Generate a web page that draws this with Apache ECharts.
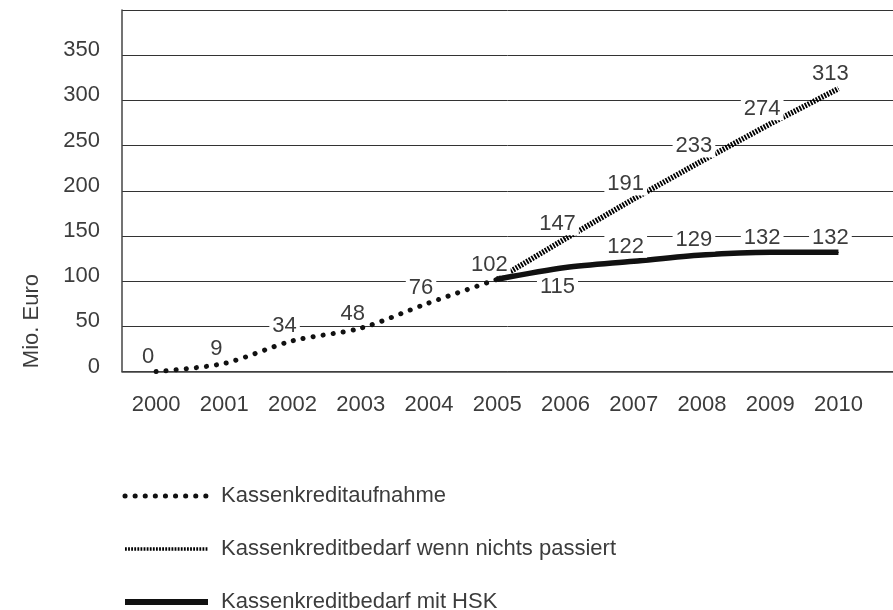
<!DOCTYPE html>
<html>
<head>
<meta charset="utf-8">
<script src="https://cdn.jsdelivr.net/npm/echarts@6/dist/echarts.min.js"></script>
<style>
  html, body { margin: 0; padding: 0; background: #fff; }
  #main { width: 893px; height: 610px; }
</style>
</head>
<body>
<div id="main"></div>
<script>
// Jahre und Werte (Mio. Euro)
var years = [2000, 2001, 2002, 2003, 2004, 2005, 2006, 2007, 2008, 2009, 2010]
var aufnahme = [0, 9, 34, 48, 76, 102, null, null, null, null, null]
var ohneHsk = [null, null, null, null, null, 102, 147, 191, 233, 274, 313]
var mitHsk = [null, null, null, null, null, 102, 115, 122, 129, 132, 132]
var yTicks = [0, 50, 100, 150, 200, 250, 300, 350]
var seriesNames = ['Kassenkreditaufnahme', 'Kassenkreditbedarf wenn nichts passiert', 'Kassenkreditbedarf mit HSK']

var font = 'Liberation Sans, Arial, sans-serif'
var textColor = '#3c3c3c'
var fs = 22

// baut die Datenpunkte; der erste Punkt 2005 der Prognosen bekommt kein Label
function buildData(values, hideFirst, belowIdx) {
  var out = []
  var first = true
  for (var i = 0; i < years.length; i++) {
    if (values[i] === null) continue
    var item = { value: [years[i], values[i]] }
    if (hideFirst && first) {
      item.label = { show: false }
    }
    if (i === belowIdx) {
      item.label = { position: 'bottom', distance: 8 }
    }
    first = false
    out.push(item)
  }
  return out
}

var labelStyle = {
  show: true,
  position: 'top',
  distance: 3,
  offset: [-8, 0],
  color: textColor,
  fontFamily: font,
  fontSize: fs,
  backgroundColor: '#fff',
  padding: [0, 3],
  formatter: function (p) { return p.value[1] }
}

var myChart = echarts.init(document.getElementById('main'))
myChart.setOption({
  animation: false,
  textStyle: { fontFamily: font },
  // die Zeichenfläche läuft rechts über den Bildrand hinaus
  grid: { left: 122, top: 10, right: 0, height: 361.5, containLabel: false },
  xAxis: {
    type: 'value',
    min: 1999.5,
    max: 2010.8,
    interval: 0.5,
    axisLine: { show: true, lineStyle: { color: '#444', width: 1.5 } },
    axisTick: { show: false },
    splitLine: { show: false },
    axisLabel: {
      margin: 22,
      color: textColor,
      fontSize: fs,
      fontFamily: font,
      showMaxLabel: false,
      formatter: function (v) {
        return (Math.round(v) === v && v >= years[0] && v <= years[years.length - 1]) ? String(v) : ''
      }
    }
  },
  yAxis: {
    type: 'value',
    min: 0,
    max: 400,
    interval: 50,
    axisLine: { show: true, lineStyle: { color: '#444', width: 1.5 } },
    axisTick: { show: false },
    splitLine: { show: true, lineStyle: { color: '#333', width: 1 } },
    axisLabel: {
      margin: 22,
      color: textColor,
      fontSize: fs,
      fontFamily: font,
      verticalAlign: 'bottom',
      lineHeight: 10,
      formatter: function (v) { return yTicks.indexOf(v) >= 0 ? String(v) : '' }
    }
  },
  graphic: [{
    type: 'text',
    left: 21,
    top: 274,
    rotation: Math.PI / 2,
    style: { text: 'Mio. Euro', fill: textColor, font: fs + 'px ' + font }
  }],
  legend: {
    orient: 'horizontal',
    left: 122,
    top: 485,
    width: 300,
    padding: 0,
    itemWidth: 83,
    itemHeight: 14,
    itemGap: 31,
    itemStyle: { opacity: 0 },
    textStyle: { color: textColor, fontSize: fs, fontFamily: font, lineHeight: 22, padding: [0, 0, 0, 8] },
    data: [
      { name: seriesNames[0], lineStyle: { width: 5 } },
      { name: seriesNames[1], lineStyle: { width: 3.5 } },
      { name: seriesNames[2], lineStyle: { width: 6 } }
    ]
  },
  series: [
    {
      name: seriesNames[0],
      type: 'line',
      data: buildData(aufnahme, false, -1),
      smooth: 0.3,
      symbol: 'circle',
      symbolSize: 1,
      lineStyle: { color: '#111', width: 5, type: [0.1, 10], cap: 'round' },
      itemStyle: { color: '#111' },
      label: labelStyle,
      z: 3
    },
    {
      name: seriesNames[1],
      type: 'line',
      data: buildData(ohneHsk, true, -1),
      symbol: 'circle',
      symbolSize: 1,
      lineStyle: { color: '#000', width: 5.5, type: [1.8, 1.3], cap: 'butt' },
      itemStyle: { color: '#000' },
      label: labelStyle,
      z: 2
    },
    {
      name: seriesNames[2],
      type: 'line',
      data: buildData(mitHsk, true, 6),
      smooth: 0.3,
      symbol: 'circle',
      symbolSize: 1,
      lineStyle: { color: '#111', width: 5.5 },
      itemStyle: { color: '#111' },
      label: labelStyle,
      z: 4
    }
  ]
})
</script>
</body>
</html>
